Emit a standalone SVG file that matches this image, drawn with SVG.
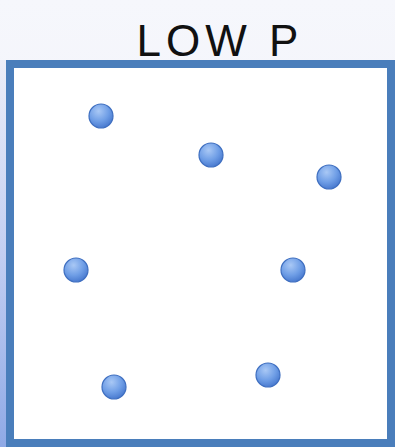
<svg xmlns="http://www.w3.org/2000/svg" width="395" height="447" viewBox="0 0 395 447">
<defs>
<radialGradient id="g" cx="0.4" cy="0.3" r="0.7">
<stop offset="0" stop-color="#a9c8f5"/>
<stop offset="0.6" stop-color="#6f9ee6"/>
<stop offset="1" stop-color="#4a7bd0"/>
</radialGradient>
<linearGradient id="bg" x1="0" y1="0" x2="0" y2="1">
<stop offset="0" stop-color="#f6f7fc"/>
<stop offset="1" stop-color="#eceef8"/>
</linearGradient>
<linearGradient id="ls" x1="0" y1="0" x2="0" y2="1">
<stop offset="0" stop-color="#eceef8"/>
<stop offset="0.5" stop-color="#c3cff2"/>
<stop offset="1" stop-color="#8fa9e6"/>
</linearGradient>
</defs>
<style>
.p{fill:url(#g);stroke:#3f6fc0;stroke-width:1.2}
.t{font-family:"Liberation Sans",sans-serif;font-size:44px;fill:#111;letter-spacing:5px}
</style>
<rect x="0" y="0" width="395" height="447" fill="url(#bg)"/>
<rect x="0" y="60" width="7" height="387" fill="url(#ls)"/>
<g id="box">
<rect x="10" y="64" width="381" height="379" fill="#ffffff" stroke="#4a7ebb" stroke-width="8"/>
</g>
<g id="title">
<text class="t" x="220" y="56" text-anchor="middle">LOW P</text>
</g>
<g id="p1"><circle class="p" cx="101" cy="116" r="12"/></g>
<g id="p2"><circle class="p" cx="211" cy="155" r="12"/></g>
<g id="p3"><circle class="p" cx="329" cy="177" r="12"/></g>
<g id="p4"><circle class="p" cx="76" cy="270" r="12"/></g>
<g id="p5"><circle class="p" cx="293" cy="270" r="12"/></g>
<g id="p6"><circle class="p" cx="114" cy="387" r="12"/></g>
<g id="p7"><circle class="p" cx="268" cy="375" r="12"/></g>
<g id="connectors"></g>
</svg>
